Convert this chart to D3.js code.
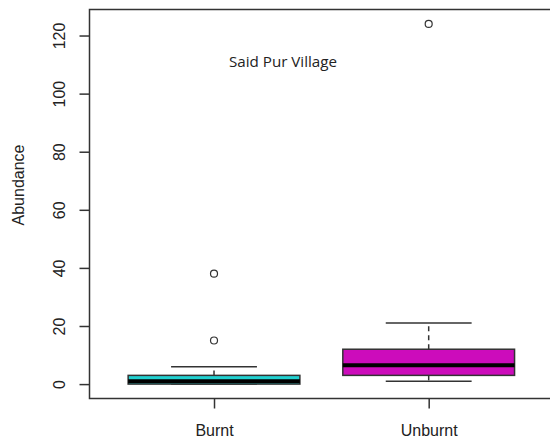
<!DOCTYPE html>
<html>
<head>
<meta charset="utf-8">
<script src="https://cdn.jsdelivr.net/npm/d3@7"></script>
<style>
  html, body { margin: 0; padding: 0; background: #fff; }
  svg { display: block; }
</style>
</head>
<body>
<svg id="chart" width="550" height="445"></svg>
<script>
// ---- data ----
const categories = ["Burnt", "Unburnt"];
const whiskerLow = [0, 1];
const q1 = [0, 3];
const median = [1, 6.5];
const q3 = [3, 12];
const whiskerHigh = [6, 21];
const outliers = [[38, 15], [124]];
const fills = ["#22d1d1", "#cc0cbb"];
const yTicks = [0, 20, 40, 60, 80, 100, 120];
const title = "Said Pur Village";
const yLabel = "Abundance";

const svg = d3.select("#chart");
const font = "'Liberation Sans', Arial, sans-serif";
const ink = "#333";

const x = d3.scaleLinear().domain([0.42, 2.58]).range([89.5, 553.2]);
const y = d3.scaleLinear().domain([-4.96, 128.96]).range([398.5, 9.5]);
const ux = x(1) - x(0);
const boxHalf = 0.4 * ux, capHalf = 0.2 * ux;

// plot frame
svg.append("rect")
  .attr("x", x(0.42)).attr("y", y(128.96))
  .attr("width", x(2.58) - x(0.42)).attr("height", y(-4.96) - y(128.96))
  .attr("fill", "none").attr("stroke", ink).attr("stroke-width", 1.5);

// y axis
const yAxis = svg.append("g")
  .attr("transform", `translate(${x(0.42)},0)`)
  .call(d3.axisLeft(y).tickValues(yTicks).tickSize(10).tickPadding(0).tickFormat(d3.format("d")));
yAxis.select(".domain").remove();
yAxis.selectAll(".tick line").attr("stroke", ink).attr("stroke-width", 1.5);
yAxis.selectAll(".tick text")
  .attr("font-family", font).attr("font-size", 16).attr("fill", "#222")
  .attr("x", null).attr("dy", null)
  .attr("text-anchor", "middle")
  .attr("transform", "translate(-24.5,0) rotate(-90)");

// x axis
const xAxis = svg.append("g")
  .attr("transform", `translate(0,${y(-4.96)})`)
  .call(d3.axisBottom(x).tickValues([1, 2]).tickSize(10).tickPadding(16)
    .tickFormat(d => categories[d - 1]));
xAxis.select(".domain").remove();
xAxis.selectAll(".tick line").attr("stroke", ink).attr("stroke-width", 1.5);
xAxis.selectAll(".tick text")
  .attr("font-family", font).attr("font-size", 16).attr("fill", "#222");

// boxes
const g = svg.append("g");
categories.forEach((c, i) => {
  const cx = x(i + 1);
  // whiskers (dashed)
  g.append("line").attr("x1", cx).attr("x2", cx)
    .attr("y1", y(q3[i])).attr("y2", y(whiskerHigh[i]))
    .attr("stroke", ink).attr("stroke-width", 1.5).attr("stroke-dasharray", "5,4");
  g.append("line").attr("x1", cx).attr("x2", cx)
    .attr("y1", y(q1[i])).attr("y2", y(whiskerLow[i]))
    .attr("stroke", ink).attr("stroke-width", 1.5).attr("stroke-dasharray", "5,4");
  // caps
  [whiskerLow[i], whiskerHigh[i]].forEach(v => {
    g.append("line").attr("x1", cx - capHalf).attr("x2", cx + capHalf)
      .attr("y1", y(v)).attr("y2", y(v))
      .attr("stroke", ink).attr("stroke-width", 1.5);
  });
  // box
  g.append("rect")
    .attr("x", cx - boxHalf).attr("width", 2 * boxHalf)
    .attr("y", y(q3[i])).attr("height", y(q1[i]) - y(q3[i]))
    .attr("fill", fills[i]).attr("stroke", ink).attr("stroke-width", 1.5);
  // median
  g.append("line").attr("x1", cx - boxHalf).attr("x2", cx + boxHalf)
    .attr("y1", y(median[i])).attr("y2", y(median[i]))
    .attr("stroke", "#000").attr("stroke-width", 4);
  // outliers
  outliers[i].forEach(v => {
    g.append("circle").attr("cx", cx).attr("cy", y(v)).attr("r", 3.5)
      .attr("fill", "none").attr("stroke", ink).attr("stroke-width", 1.2);
  });
});

// y label
svg.append("text")
  .attr("transform", `translate(24,185) rotate(-90)`)
  .attr("text-anchor", "middle")
  .attr("font-family", font).attr("font-size", 16).attr("fill", "#222")
  .text(yLabel);

// annotation
svg.append("text")
  .attr("x", 229).attr("y", 67)
  .attr("font-family", "'Open Sans', 'Noto Sans', sans-serif").attr("font-size", 14)
  .attr("textLength", 108).attr("lengthAdjust", "spacingAndGlyphs")
  .attr("fill", "#222")
  .text(title);
</script>
</body>
</html>
